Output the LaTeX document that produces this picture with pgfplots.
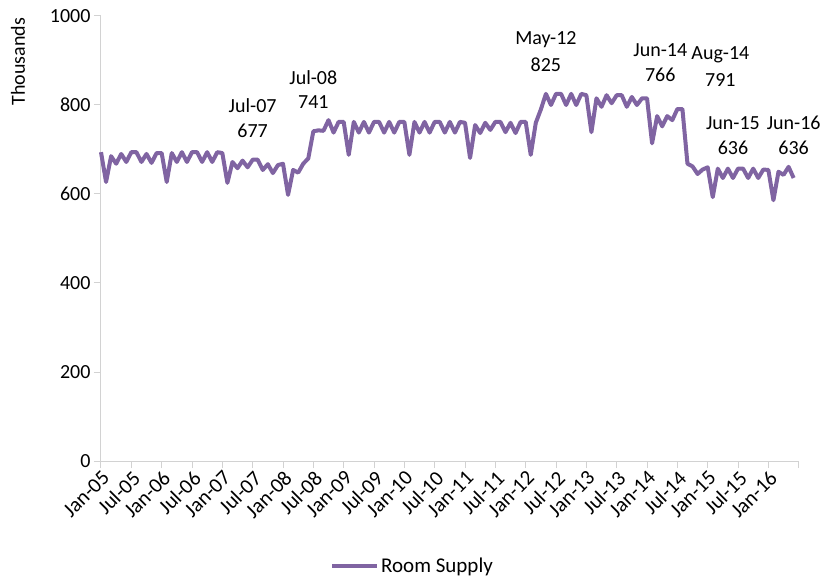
\documentclass[border=0pt]{standalone}
\usepackage{fontspec}
\setmainfont{Carlito}
\usepackage{pgfplots}
\pgfplotsset{compat=1.18}
\definecolor{supply}{RGB}{128,100,162}
\definecolor{axisgray}{RGB}{210,210,210}
\begin{document}
\begin{tikzpicture}[x=1pt,y=1pt]
\path[use as bounding box] (-101,-120) rectangle (724,461);
\begin{axis}[
  at={(0,0)}, anchor=south west,
  scale only axis, width=697.7pt, height=445pt,
  xmin=0, xmax=138, ymin=0, ymax=1000,
  axis x line=bottom, axis y line=left,
  axis line style={-, axisgray, line width=1pt},
  tick align=outside, major tick length=7pt,
  tick style={axisgray, line width=1pt},
  xtick={0,6,...,138},
  xticklabels={Jan-05,Jul-05,Jan-06,Jul-06,Jan-07,Jul-07,Jan-08,Jul-08,Jan-09,Jul-09,Jan-10,Jul-10,Jan-11,Jul-11,Jan-12,Jul-12,Jan-13,Jul-13,Jan-14,Jul-14,Jan-15,Jul-15,Jan-16,{}},
  x tick label style={rotate=45, anchor=north east, inner sep=1pt, font=\fontsize{21}{25}\selectfont},
  ytick={0,200,...,1000},
  y tick label style={font=\fontsize{20}{24}\selectfont, /pgf/number format/assume math mode=true, /pgf/number format/1000 sep={}},
  legend style={at={(0.4465,-0.236)}, anchor=center, draw=none, font=\fontsize{21}{25}\selectfont},
  legend cell align=left,
  legend image code/.code={\draw[#1] (0pt,0pt) -- (45pt,0pt);},
  clip=false,
]
\addplot[supply, line width=4pt, line join=round] coordinates {
(0,694) (1,627) (2,685) (3,668) (4,690) (5,672) (6,694) (7,694) (8,672) (9,690) (10,670) (11,692)
(12,692) (13,627) (14,692) (15,672) (16,694) (17,672) (18,694) (19,694) (20,672) (21,694) (22,672) (23,694)
(24,692) (25,625) (26,672) (27,658) (28,675) (29,660) (30,677) (31,677) (32,654) (33,667) (34,647) (35,665)
(36,668) (37,598) (38,654) (39,648) (40,668) (41,680) (42,741) (43,743) (44,742) (45,766) (46,738) (47,762)
(48,762) (49,688) (50,762) (51,738) (52,762) (53,738) (54,762) (55,762) (56,738) (57,762) (58,738) (59,762)
(60,762) (61,688) (62,762) (63,738) (64,762) (65,738) (66,762) (67,762) (68,738) (69,762) (70,738) (71,762)
(72,760) (73,681) (74,755) (75,737) (76,760) (77,744) (78,762) (79,762) (80,739) (81,760) (82,737) (83,762)
(84,762) (85,688) (86,760) (87,790) (88,825) (89,800) (90,825) (91,825) (92,800) (93,825) (94,800) (95,825)
(96,822) (97,739) (98,815) (99,796) (100,822) (101,804) (102,822) (103,822) (104,796) (105,818) (106,800) (107,815)
(108,815) (109,714) (110,775) (111,752) (112,775) (113,766) (114,791) (115,791) (116,668) (117,662) (118,645) (119,655)
(120,660) (121,593) (122,657) (123,636) (124,657) (125,636) (126,657) (127,657) (128,636) (129,657) (130,636) (131,655)
(132,654) (133,586) (134,650) (135,643) (136,661) (137,636)
};
\addlegendentry{Room Supply}
\tikzset{lbl/.style={font=\fontsize{20}{24}\selectfont, inner sep=0pt}}
\node[lbl, yshift=29pt] at (axis cs:30,677) {677};
\node[lbl, yshift=54pt] at (axis cs:30,677) {Jul-07};
\node[lbl, yshift=29pt] at (axis cs:42,741) {741};
\node[lbl, yshift=54pt] at (axis cs:42,741) {Jul-08};
\node[lbl, yshift=29pt] at (axis cs:88,825) {825};
\node[lbl, yshift=54pt] at (axis cs:88,825) {May-12};
\node[lbl, xshift=-12pt, yshift=45pt] at (axis cs:113,766) {766};
\node[lbl, xshift=-12pt, yshift=70pt] at (axis cs:113,766) {Jun-14};
\node[lbl, xshift=38pt, yshift=29pt] at (axis cs:115,791) {791};
\node[lbl, xshift=38pt, yshift=54pt] at (axis cs:115,791) {Aug-14};
\node[lbl, yshift=30pt] at (axis cs:125,636) {636};
\node[lbl, yshift=55pt] at (axis cs:125,636) {Jun-15};
\node[lbl, yshift=30pt] at (axis cs:137,636) {636};
\node[lbl, yshift=55pt] at (axis cs:137,636) {Jun-16};
\node[rotate=90, font=\fontsize{20}{24}\selectfont] at (rel axis cs:-0.119,0.897) {Thousands};
\end{axis}
\end{tikzpicture}
\end{document}
